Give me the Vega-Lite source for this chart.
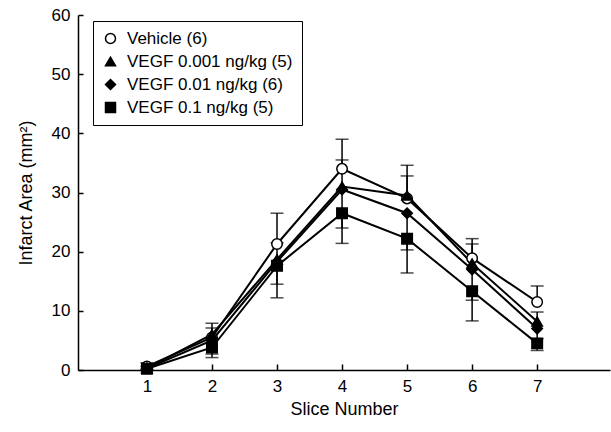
{
  "$schema": "https://vega.github.io/schema/vega-lite/v6.json",
  "width": 532,
  "height": 355,
  "autosize": "none",
  "padding": {"left": 78, "top": 15, "right": 1, "bottom": 62},
  "background": "white",
  "config": {
    "font": "Liberation Sans",
    "view": {"stroke": null},
    "axis": {"grid": false, "domainColor": "black", "domainWidth": 1.5, "tickColor": "black", "tickWidth": 1.5, "labelColor": "black", "titleColor": "black", "labelFontSize": 17, "titleFontSize": 18, "titleFontWeight": "normal"}
  },
  "data": {
    "values": [
      {"slice": 1, "group": "Vehicle (6)", "mean": 0.6, "end": 1.2},
      {"slice": 2, "group": "Vehicle (6)", "mean": 5.5, "end": 7.9},
      {"slice": 3, "group": "Vehicle (6)", "mean": 21.3, "end": 26.5},
      {"slice": 4, "group": "Vehicle (6)", "mean": 34, "end": 39},
      {"slice": 5, "group": "Vehicle (6)", "mean": 29, "end": 34.6},
      {"slice": 6, "group": "Vehicle (6)", "mean": 18.9, "end": 22.2},
      {"slice": 7, "group": "Vehicle (6)", "mean": 11.5, "end": 14.2},
      {"slice": 1, "group": "VEGF 0.001 ng/kg (5)", "mean": 0.3, "end": 0.6},
      {"slice": 2, "group": "VEGF 0.001 ng/kg (5)", "mean": 6, "end": 7.1},
      {"slice": 3, "group": "VEGF 0.001 ng/kg (5)", "mean": 18.7, "end": 21.5},
      {"slice": 4, "group": "VEGF 0.001 ng/kg (5)", "mean": 31, "end": 35.5},
      {"slice": 5, "group": "VEGF 0.001 ng/kg (5)", "mean": 29.5, "end": 32.8},
      {"slice": 6, "group": "VEGF 0.001 ng/kg (5)", "mean": 18, "end": 21.3},
      {"slice": 7, "group": "VEGF 0.001 ng/kg (5)", "mean": 8.2, "end": 9.8},
      {"slice": 1, "group": "VEGF 0.01 ng/kg (6)", "mean": 0.3, "end": 0.1},
      {"slice": 2, "group": "VEGF 0.01 ng/kg (6)", "mean": 5, "end": 2.7},
      {"slice": 3, "group": "VEGF 0.01 ng/kg (6)", "mean": 18.3, "end": 14.5},
      {"slice": 4, "group": "VEGF 0.01 ng/kg (6)", "mean": 30.5, "end": 24},
      {"slice": 5, "group": "VEGF 0.01 ng/kg (6)", "mean": 26.5, "end": 20.3},
      {"slice": 6, "group": "VEGF 0.01 ng/kg (6)", "mean": 17, "end": 11.8},
      {"slice": 7, "group": "VEGF 0.01 ng/kg (6)", "mean": 7, "end": 5.3},
      {"slice": 1, "group": "VEGF 0.1 ng/kg (5)", "mean": 0.2, "end": 0},
      {"slice": 2, "group": "VEGF 0.1 ng/kg (5)", "mean": 3.8, "end": 2.1},
      {"slice": 3, "group": "VEGF 0.1 ng/kg (5)", "mean": 17.6, "end": 12.2},
      {"slice": 4, "group": "VEGF 0.1 ng/kg (5)", "mean": 26.5, "end": 21.4},
      {"slice": 5, "group": "VEGF 0.1 ng/kg (5)", "mean": 22.2, "end": 16.4},
      {"slice": 6, "group": "VEGF 0.1 ng/kg (5)", "mean": 13.3, "end": 8.3},
      {"slice": 7, "group": "VEGF 0.1 ng/kg (5)", "mean": 4.5, "end": 3.3}
    ]
  },
  "encoding": {
    "x": {"field": "slice", "type": "quantitative", "scale": {"domain": [-0.06, 8.12], "nice": false, "zero": false},
      "axis": {"title": "Slice Number", "values": [1,2,3,4,5,6,7], "tickSize": -6, "labelPadding": 14, "titlePadding": 6, "format": "d"}}
  },
  "layer": [
    {
      "mark": {"type": "rule", "color": "black", "strokeWidth": 1.5},
      "encoding": {
        "y": {"field": "mean", "type": "quantitative", "scale": {"domain": [0, 60], "nice": false},
          "axis": {"title": "Infarct Area (mm²)", "values": [0,10,20,30,40,50,60], "tickSize": -5, "labelPadding": 13, "titlePadding": 16}},
        "y2": {"field": "end"},
        "detail": {"field": "group"}
      }
    },
    {
      "mark": {"type": "tick", "orient": "horizontal", "color": "black", "size": 13, "thickness": 1.5},
      "encoding": {
        "y": {"field": "end", "type": "quantitative"}
      }
    },
    {
      "mark": {"type": "line", "color": "black", "strokeWidth": 2},
      "encoding": {
        "y": {"field": "mean", "type": "quantitative"},
        "detail": {"field": "group"}
      }
    },
    {
      "mark": {"type": "point", "strokeWidth": 1.5, "opacity": 1, "filled": false},
      "encoding": {
        "y": {"field": "mean", "type": "quantitative"},
        "shape": {"field": "group", "type": "nominal",
          "scale": {"domain": ["Vehicle (6)", "VEGF 0.001 ng/kg (5)", "VEGF 0.01 ng/kg (6)", "VEGF 0.1 ng/kg (5)"], "range": ["circle", "triangle-up", "diamond", "square"]},
          "legend": {"title": null, "orient": "none", "legendX": 15, "legendY": 6, "strokeColor": "black", "padding": 9, "labelFontSize": 17, "labelColor": "black", "labelLimit": 0, "symbolSize": 100, "rowPadding": 5, "labelOffset": 8, "symbolStrokeWidth": 1.5}},
        "fill": {"field": "group", "type": "nominal",
          "scale": {"domain": ["Vehicle (6)", "VEGF 0.001 ng/kg (5)", "VEGF 0.01 ng/kg (6)", "VEGF 0.1 ng/kg (5)"], "range": ["white", "black", "black", "black"]}},
        "stroke": {"field": "group", "type": "nominal",
          "scale": {"domain": ["Vehicle (6)", "VEGF 0.001 ng/kg (5)", "VEGF 0.01 ng/kg (6)", "VEGF 0.1 ng/kg (5)"], "range": ["black", "black", "black", "black"]}},
        "size": {"value": 110}
      }
    }
  ]
}
